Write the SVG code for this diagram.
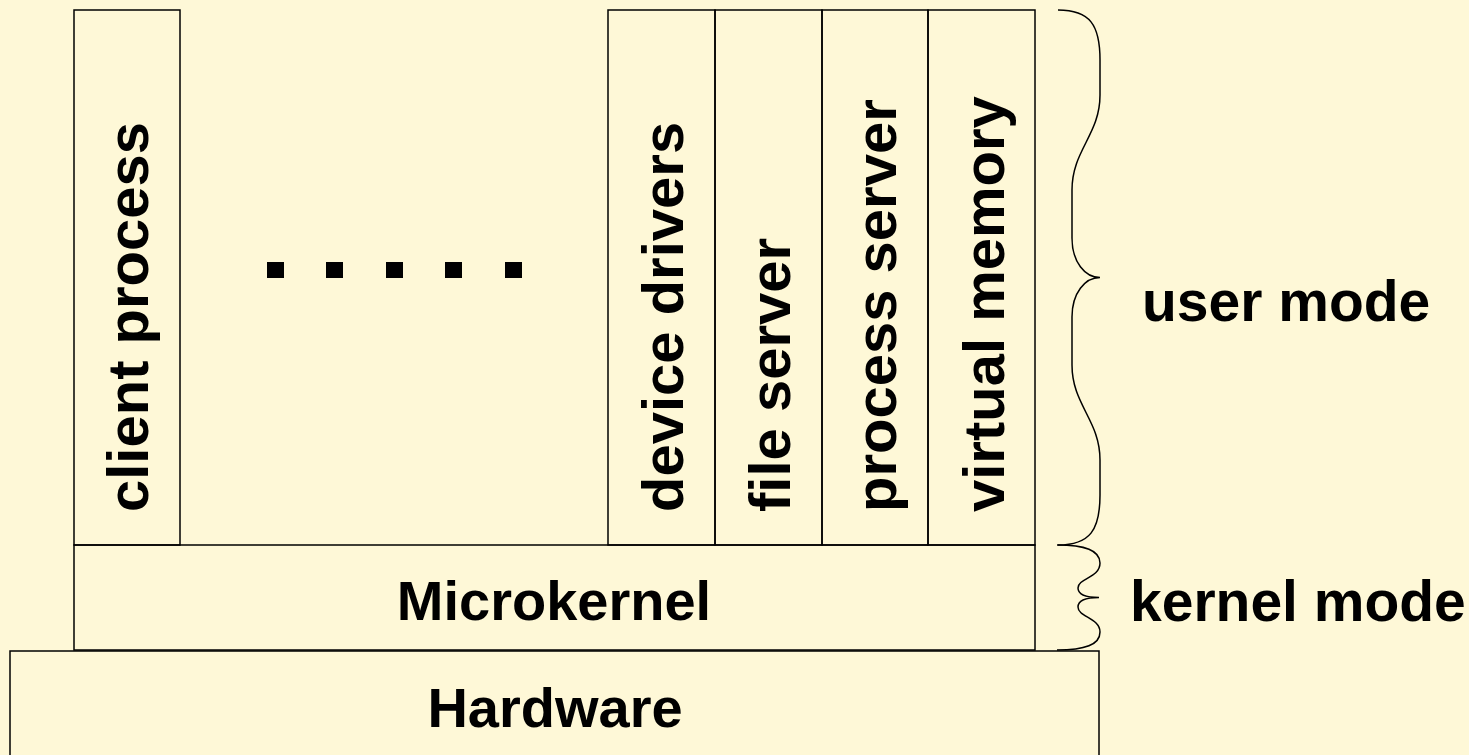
<svg xmlns="http://www.w3.org/2000/svg" width="1469" height="755" viewBox="0 0 1469 755">
  <style>
    .box { fill: none; stroke: #000; stroke-width: 1.5; }
    .brace { fill: none; stroke: #000; stroke-width: 1.5; }
    .lbl { font-family: "Liberation Sans", Arial, sans-serif; font-weight: bold; fill: #000; }
    .vlbl { font-size: 58px; }
    .hlbl { font-size: 56px; }
    .side { font-size: 57px; }
    .mid { text-anchor: middle; }
    .dot { fill: #000; }
  </style>

  <!-- page background -->
  <rect x="0" y="0" width="1469" height="755" fill="#FEF8D7"/>

  <!-- user-space processes (vertical columns) -->
  <g id="client-process">
    <rect class="box" x="74" y="10" width="106" height="535"/>
    <text class="lbl vlbl" transform="translate(148,512) rotate(-90)">client process</text>
  </g>

  <g id="ellipsis">
    <rect class="dot" x="267" y="262" width="17" height="16"/>
    <rect class="dot" x="326" y="262" width="17" height="16"/>
    <rect class="dot" x="386" y="262" width="17" height="16"/>
    <rect class="dot" x="445" y="262" width="17" height="16"/>
    <rect class="dot" x="505" y="262" width="17" height="16"/>
  </g>

  <g id="device-drivers">
    <rect class="box" x="608" y="10" width="107" height="535"/>
    <text class="lbl vlbl" transform="translate(683,512) rotate(-90)">device drivers</text>
  </g>

  <g id="file-server">
    <rect class="box" x="715" y="10" width="107" height="535"/>
    <text class="lbl vlbl" transform="translate(790,512) rotate(-90)">file server</text>
  </g>

  <g id="process-server">
    <rect class="box" x="822" y="10" width="106" height="535"/>
    <text class="lbl vlbl" transform="translate(896,512) rotate(-90)">process server</text>
  </g>

  <g id="virtual-memory">
    <rect class="box" x="928" y="10" width="107" height="535"/>
    <text class="lbl vlbl" transform="translate(1004,512) rotate(-90)">virtual memory</text>
  </g>

  <!-- kernel layer -->
  <g id="microkernel">
    <rect class="box" x="74" y="545" width="961" height="105"/>
    <text class="lbl hlbl mid" x="554" y="620">Microkernel</text>
  </g>

  <!-- hardware layer -->
  <g id="hardware">
    <rect class="box" x="10" y="651" width="1089" height="110"/>
    <text class="lbl hlbl mid" x="555" y="727">Hardware</text>
  </g>

  <!-- mode braces -->
  <g id="braces">
    <path class="brace" d="M1058,10 C1090,10 1100,25 1100,60 L1100,95 C1100,135 1072,150 1072,190 L1072,238 C1072,262 1085,277.5 1100,277.5 C1085,277.5 1072,293 1072,317 L1072,365 C1072,405 1100,420 1100,460 L1100,495 C1100,530 1090,545 1058,545"/>
    <path class="brace" d="M1057,545 C1085,545 1100,550 1100,563 C1100,578 1078,578 1078,588 C1078,595 1088,597.5 1099,597.5 C1088,597.5 1078,600 1078,607 C1078,617 1100,618 1100,632 C1100,645 1085,650 1057,650"/>
  </g>

  <g id="user-mode">
    <text class="lbl side" x="1142" y="321">user mode</text>
  </g>

  <g id="kernel-mode">
    <text class="lbl side" x="1130" y="621">kernel mode</text>
  </g>
</svg>
